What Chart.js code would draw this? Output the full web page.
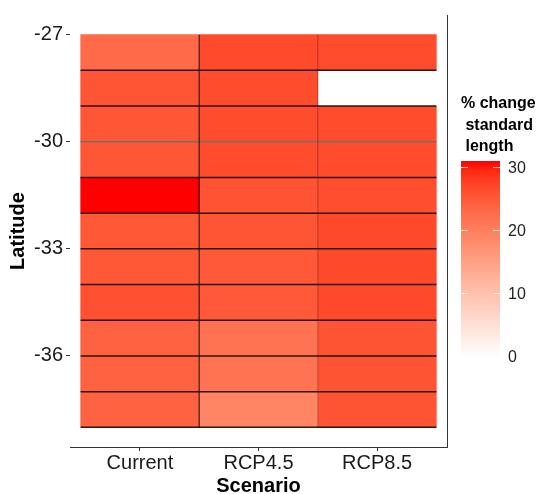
<!DOCTYPE html>
<html>
<head>
<meta charset="utf-8">
<script src="https://cdn.jsdelivr.net/npm/chart.js@4.4.1/dist/chart.umd.min.js"></script>
<style>
  body { margin: 0; background: #fff; font-family: "Liberation Sans", Arial, sans-serif; }
  #wrap { position: relative; width: 542px; height: 494px; }
  #legendTitle { position: absolute; left: 461px; top: 92px; font-weight: bold; font-size: 16px; line-height: 21.5px; white-space: pre; color: #000; }
  #bar { position: absolute; left: 461px; top: 161px; width: 39px; height: 196px; }
  .tick { position: absolute; height: 1px; width: 7px; background: rgba(255,255,255,0.75); }
  .lab { position: absolute; left: 508px; font-size: 16px; line-height: 16px; color: #222; transform: translateY(-50%); }
</style>
</head>
<body>
<div id="wrap">
  <canvas id="heat"></canvas>
  <div id="legendTitle">% change
 standard
 length</div>
  <div id="bar"></div>
</div>
<script>
const scenarios = ["Current", "RCP4.5", "RCP8.5"];
// tile centres, one degree tall
const latitudes = [-27.5, -28.5, -29.5, -30.5, -31.5, -32.5, -33.5, -34.5, -35.5, -36.5, -37.5];
const currentPct = [23.0, 25.6, 25.4, 25.4, 31.1, 25.3, 25.3, 26.1, 24.0, 24.0, 24.0];
const rcp45Pct = [26.7, 26.6, 26.6, 26.6, 25.8, 25.6, 25.1, 25.1, 21.8, 21.8, 19.3];
const rcp85Pct = [26.6, null, 26.6, 26.6, 26.4, 26.9, 26.9, 26.9, 25.7, 25.7, 25.7];
const yTicks = [-27, -30, -33, -36];
const legendTicks = [0, 10, 20, 30];

const FONT = "'Liberation Sans', Arial, sans-serif";
const GREY_EDGE = -30;
const series = [currentPct, rcp45Pct, rcp85Pct];
const allVals = series.flat().filter(v => v != null);
const vMax = Math.max(...allVals);

// white -> red, interpolated in Lab like ggplot
function lin(c) { c /= 255; return c <= 0.04045 ? c / 12.92 : Math.pow((c + 0.055) / 1.055, 2.4); }
function gam(c) { c = c <= 0.0031308 ? 12.92 * c : 1.055 * Math.pow(c, 1 / 2.4) - 0.055; return Math.round(Math.min(1, Math.max(0, c)) * 255); }
function toLab(rgb) {
  const [r, g, b] = rgb.map(lin);
  const X = (0.4124 * r + 0.3576 * g + 0.1805 * b) / 0.95047;
  const Y = 0.2126 * r + 0.7152 * g + 0.0722 * b;
  const Z = (0.0193 * r + 0.1192 * g + 0.9505 * b) / 1.08883;
  const f = t => t > 0.008856 ? Math.cbrt(t) : 7.787 * t + 16 / 116;
  return [116 * f(Y) - 16, 500 * (f(X) - f(Y)), 200 * (f(Y) - f(Z))];
}
function fromLab([L, a, bb]) {
  const fy = (L + 16) / 116, fx = fy + a / 500, fz = fy - bb / 200;
  const inv = t => t > 0.206893 ? t * t * t : (t - 16 / 116) / 7.787;
  const X = inv(fx) * 0.95047, Y = inv(fy), Z = inv(fz) * 1.08883;
  const r = 3.2406 * X - 1.5372 * Y - 0.4986 * Z;
  const g = -0.9689 * X + 1.8758 * Y + 0.0415 * Z;
  const b = 0.0557 * X - 0.2040 * Y + 1.0570 * Z;
  return `rgb(${gam(r)},${gam(g)},${gam(b)})`;
}
const LOW = toLab([255, 255, 255]), HIGH = toLab([255, 0, 0]);
function fillFor(v) {
  const t = Math.max(0, Math.min(1, v / vMax));
  return fromLab(LOW.map((c, k) => c + (HIGH[k] - c) * t));
}

// lines between tiles
const tileLines = {
  id: "tileLines",
  afterDatasetsDraw(chart) {
    const { ctx, scales: { x, y } } = chart;
    const xl = x.getPixelForValue(-0.5), xr = x.getPixelForValue(scenarios.length - 0.5);
    const yt = y.getPixelForValue(latitudes[0] + 0.5), yb = y.getPixelForValue(latitudes[latitudes.length - 1] - 0.5);
    ctx.save();
    ctx.lineWidth = 1.5;
    latitudes.forEach(lat => {
      const edge = lat - 0.5;
      const py = y.getPixelForValue(edge);
      ctx.strokeStyle = edge === GREY_EDGE ? "#707070" : "rgba(0,0,0,0.82)";
      ctx.beginPath(); ctx.moveTo(xl, py); ctx.lineTo(xr, py); ctx.stroke();
    });
    const vAlpha = [0.6, 0.2];
    for (let i = 0; i < scenarios.length - 1; i++) {
      const px = x.getPixelForValue(i + 0.5);
      ctx.strokeStyle = `rgba(0,0,0,${vAlpha[i]})`;
      ctx.beginPath(); ctx.moveTo(px, yt); ctx.lineTo(px, yb); ctx.stroke();
    }
    ctx.restore();
  }
};

const panelEdge = {
  id: "panelEdge",
  afterDraw(chart) {
    const { ctx, chartArea: { top, bottom, right } } = chart;
    ctx.save();
    ctx.strokeStyle = "#333";
    ctx.lineWidth = 1;
    ctx.beginPath(); ctx.moveTo(right + 0.5, top); ctx.lineTo(right + 0.5, bottom + 0.5); ctx.stroke();
    ctx.restore();
  }
};

new Chart(document.getElementById("heat"), {
  type: "bar",
  data: {
    datasets: series.map((vals, i) => ({
      label: scenarios[i],
      data: latitudes.map((lat, j) => ({ x: i, y: vals[j] == null ? null : [lat - 0.5, lat + 0.5] })),
      backgroundColor: vals.map(v => v == null ? "rgba(0,0,0,0)" : fillFor(v)),
      borderWidth: 0,
      barPercentage: 1,
      categoryPercentage: 1,
      grouped: false,
    })),
  },
  options: {
    responsive: true,
    maintainAspectRatio: false,
    animation: false,
    layout: { padding: { top: 4, right: 95, left: 0, bottom: 0 } },
    plugins: { legend: { display: false }, tooltip: { enabled: false } },
    scales: {
      x: {
        type: "linear",
        offset: false,
        min: -0.59,
        max: 2.59,
        afterBuildTicks: s => { s.ticks = scenarios.map((_, i) => ({ value: i })); },
        afterFit: s => { s.height = 47; },
        ticks: {
          callback: v => scenarios[v],
          font: { family: FONT, size: 20 },
          color: "#1a1a1a",
          padding: 0,
          maxRotation: 0,
          autoSkip: false,
        },
        grid: { offset: false, drawOnChartArea: false, drawTicks: true, tickLength: 4, tickColor: "#333" },
        border: { display: true, color: "#333", width: 1 },
        title: { display: true, text: "Scenario", color: "#000", font: { family: FONT, size: 20, weight: "bold", lineHeight: 0.8 }, padding: 0 },
      },
      y: {
        type: "linear",
        min: -38.55,
        max: -26.45,
        afterBuildTicks: s => { s.ticks = yTicks.map(v => ({ value: v })); },
        afterFit: s => { s.width = 70; },
        ticks: { font: { family: FONT, size: 20 }, color: "#1a1a1a", padding: 3 },
        grid: { drawOnChartArea: false, drawTicks: true, tickLength: 4, tickColor: "#333" },
        border: { display: false },
        title: { display: true, text: "Latitude", color: "#000", font: { family: FONT, size: 20, weight: "bold" }, padding: { top: 6, bottom: 0 } },
      },
    },
  },
  plugins: [tileLines, panelEdge],
});

// colour bar legend
const bar = document.getElementById("bar");
const stops = [];
for (let k = 0; k <= 20; k++) stops.push(`${fillFor(vMax * k / 20)} ${100 - k * 5}%`);
bar.style.background = `linear-gradient(to bottom, ${stops.reverse().join(", ")})`;
const wrap = document.getElementById("wrap");
const barTop = 161, barH = 196, barLeft = 461, barW = 39;
legendTicks.forEach(v => {
  const py = barTop + barH * (1 - v / vMax);
  [barLeft, barLeft + barW - 7].forEach(px => {
    const t = document.createElement("div");
    t.className = "tick";
    t.style.left = px + "px";
    t.style.top = (py - 0.5) + "px";
    wrap.appendChild(t);
  });
  const lab = document.createElement("div");
  lab.className = "lab";
  lab.style.top = py + "px";
  lab.textContent = v;
  wrap.appendChild(lab);
});
</script>
</body>
</html>
